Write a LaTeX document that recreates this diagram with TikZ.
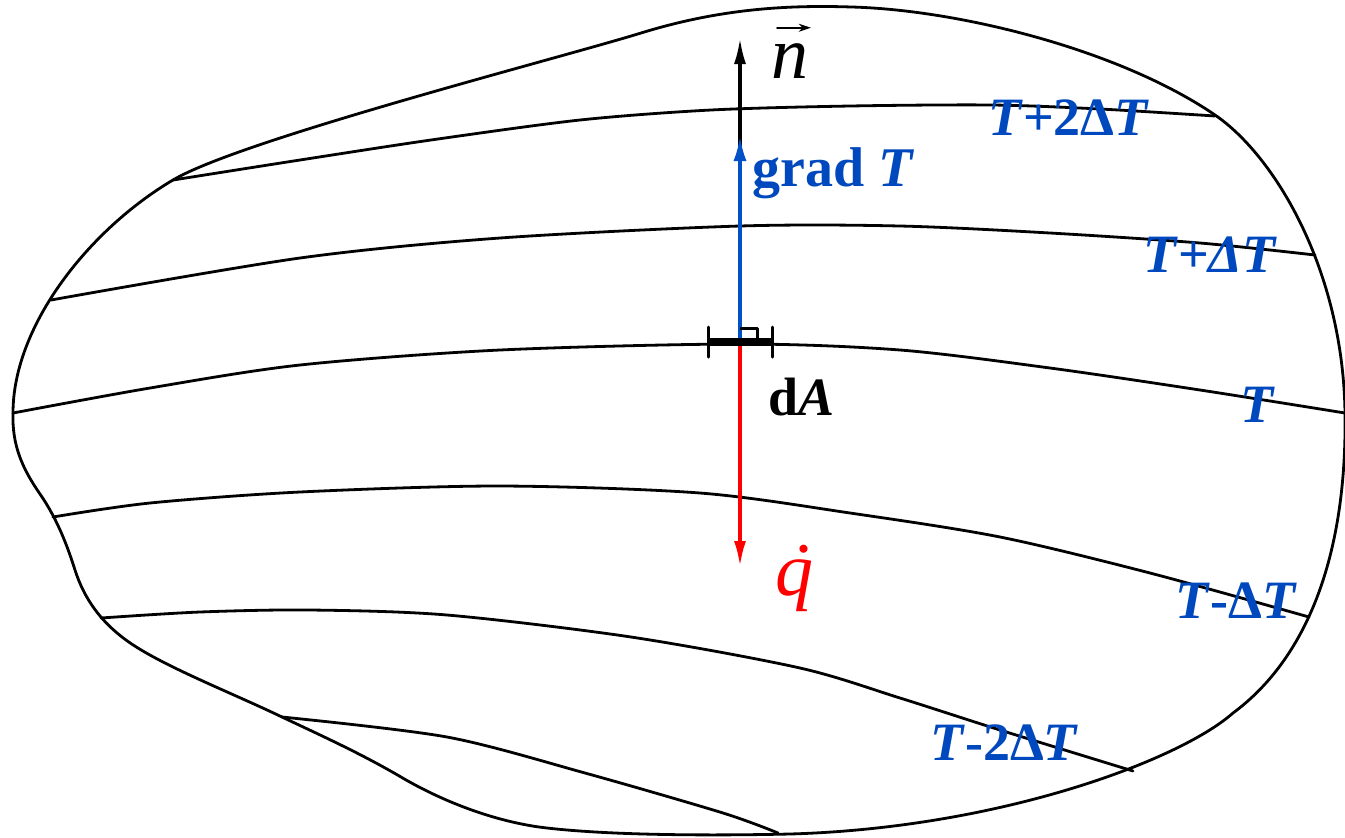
\documentclass[tikz,border=0pt]{standalone}
\usepackage{fontspec}
\setmainfont{Liberation Serif}
\usetikzlibrary{arrows.meta,calc}
\definecolor{lblue}{RGB}{0,72,190}
\definecolor{ablue}{RGB}{0,80,200}
\begin{document}
\begin{tikzpicture}[x=0.5pt,y=-0.5pt, line join=round, line cap=round,
  iso/.style={line width=1.4pt},
  lab/.style={text=lblue, font=\fontsize{27}{30}\selectfont\bfseries, anchor=base west, inner sep=0pt}]
\useasboundingbox (0,0) rectangle (1345,837);
% outline
\draw[iso] (13,413)
  .. controls (13,325) and (90,229) .. (173,180)
  .. controls (240,140) and (560,58) .. (641,33)
  .. controls (722,8) and (790,5) .. (852,7)
  .. controls (960,10) and (1120,50) .. (1215,115)
  .. controls (1275,156) and (1343,270) .. (1345,413)
  .. controls (1347,550) and (1310,656) .. (1233,713)
  .. controls (1180,760) and (1000,828) .. (790,834)
  .. controls (700,836) and (600,835) .. (539,827)
  .. controls (490,820) and (440,800) .. (401,777)
  .. controls (360,753) and (320,735) .. (282,717)
  .. controls (230,692) and (160,665) .. (126,640)
  .. controls (100,621) and (84,598) .. (75,570)
  .. controls (68,548) and (58,520) .. (40,494)
  .. controls (22,468) and (12,445) .. cycle;
% isotherms
\draw[iso] plot[smooth] coordinates {(173,180) (300,160) (431,140) (580,120) (711,110) (850,106) (992,105) (1100,109) (1215,116)};
\draw[iso] plot[smooth] coordinates {(51,300) (300,258) (500,238) (740,226) (900,226) (1050,233) (1200,243) (1315,255)};
\draw[iso] plot[smooth] coordinates {(13,413) (150,388) (300,365) (500,350) (740,344) (900,350) (1050,368) (1200,390) (1345,413)};
\draw[iso] plot[smooth] coordinates {(53,517) (150,503) (300,492) (500,486) (700,493) (850,513) (1000,537) (1150,573) (1309,617)};
\draw[iso] plot[smooth] coordinates {(101,618) (200,612) (310,610) (447,615) (631,637) (800,668) (900,698) (1000,730) (1133,771)};
\draw[iso] plot[smooth] coordinates {(282,717) (447,737) (585,773) (723,813) (778,833)};
% vectors
\coordinate (o) at (740,342);
\coordinate (ntip) at (740,38);
\coordinate (gtip) at (740,135);
\coordinate (qtip) at (740,567);
\draw[line width=1.6pt, -{Latex[length=13pt,width=6pt]}] (o) -- (ntip);
\draw[ablue, line width=2pt, -{Latex[length=13pt,width=6.5pt]}] (o) -- (gtip);
\draw[red, line width=1.8pt, -{Latex[length=13pt,width=6pt]}] (o) -- (qtip);
% dA element
\draw[line width=4pt, line cap=butt] (708,342) -- (772,342);
\draw[line width=1.5pt] (708,327) -- (708,357) (772,327) -- (772,357);
\draw[line width=1.5pt, line cap=butt] (740,328) -- (757,328) -- (757,338);
% labels
\node[lab] (l2) at (988,135) {\textit{T}+2Δ\textit{T}};
\node[lab] (l1) at (1143,272) {\textit{T}+\textit{Δ}\textit{T}};
\node[lab] (l0) at (1240,422) {\textit{T}};
\node[lab] (lm1) at (1175,618) {\textit{T}-Δ\textit{T}};
\node[lab] (lm2) at (930,760) {\textit{T}-2Δ\textit{T}};
\node[lab, font=\fontsize{28}{30}\selectfont\bfseries] (grad) at (752,186) {grad \textit{T}};
\node[lab, text=black] (dA) at (768,415) {d\textit{A}};
\node[anchor=base west, inner sep=0pt, font=\fontsize{37}{40}\selectfont\itshape] (n) at (771,78) {n};
\draw[line width=0.8pt, -{Stealth[length=6pt,width=4pt]}] ($(n.north west)+(6,-15)$) -- ($(n.north east)+(2,-15)$);
\node[anchor=base west, inner sep=0pt, text=red, font=\fontsize{38}{40}\selectfont\itshape] (q) at (775,595) {\ooalign{q\cr\hidewidth\kern0.12em ˙\hidewidth\cr}};
\end{tikzpicture}
\end{document}
